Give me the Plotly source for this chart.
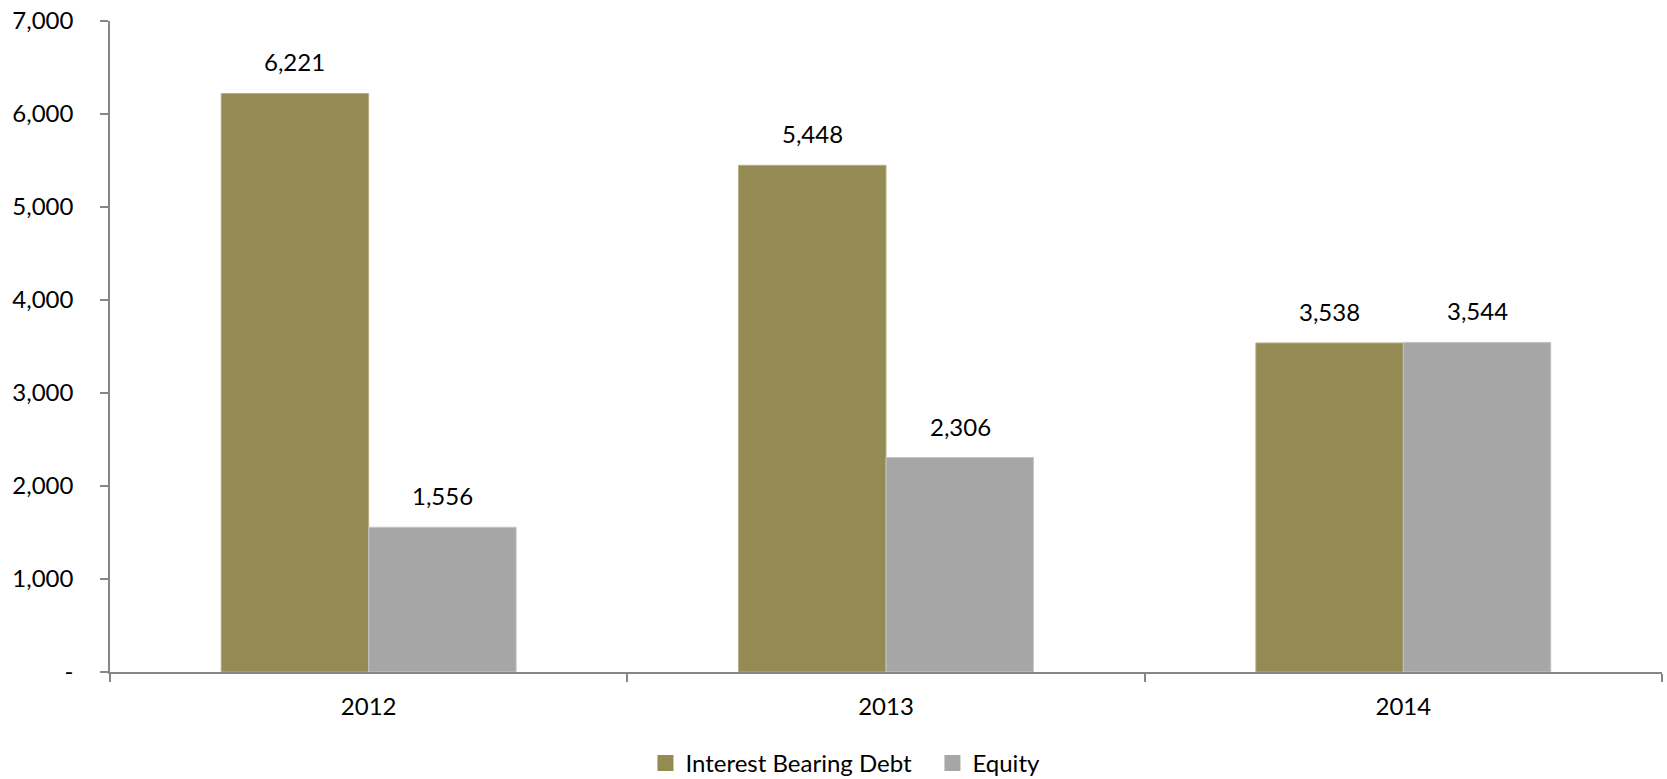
import plotly.graph_objects as go

years = ["2012", "2013", "2014"]
debt = [6221, 5448, 3538]
equity = [1556, 2306, 3544]
ytick_vals = [0, 1000, 2000, 3000, 4000, 5000, 6000, 7000]
ytick_text = ["-", "1,000", "2,000", "3,000", "4,000", "5,000", "6,000", "7,000"]

DEBT_C = "#948A54"
EQ_C = "#A6A6A6"
FONT = "Lato"
FS = 24

fig = go.Figure()
fig.add_trace(go.Bar(name="Interest Bearing Debt", x=years, y=debt, showlegend=False,
                     marker=dict(color=DEBT_C, line=dict(color="#B5AE86", width=1))))
fig.add_trace(go.Bar(name="Equity", x=years, y=equity, showlegend=False,
                     marker=dict(color=EQ_C, line=dict(color="#C4C4C4", width=1))))
# legend entries with larger square swatches
for name, col in (("Interest Bearing Debt", DEBT_C), ("Equity", EQ_C)):
    fig.add_trace(go.Scatter(name=name, x=[None], y=[None], mode="markers",
                             marker=dict(symbol="square", size=16, color=col)))

# category axes place annotations by category index
for vals, shift in ((debt, -74), (equity, 74)):
    for i, v in enumerate(vals):
        fig.add_annotation(x=i, y=v, text=f"{v:,}", showarrow=False,
                           xshift=shift, yshift=15, yanchor="bottom",
                           font=dict(family=FONT, size=FS, color="#000"))

fig.update_layout(
    width=1667, height=779,
    margin=dict(l=110, r=5, t=18, b=107),
    paper_bgcolor="white", plot_bgcolor="white",
    barmode="group", bargap=0.43, bargroupgap=0,
    font=dict(family=FONT, size=FS, color="#000"),
    showlegend=True,
    legend=dict(orientation="h", x=0.345, xanchor="left",
                yref="container", y=0.02, yanchor="middle",
                font=dict(family=FONT, size=FS), itemwidth=30, tracegroupgap=0,
                entrywidth=242),
    xaxis=dict(type="category", range=[-0.5, 2.5], showline=True, linecolor="#868686", linewidth=1.5,
               ticks="outside", ticklen=8, tickcolor="#868686", tickwidth=1.5,
               tickson="boundaries", showgrid=False, zeroline=False,
               tickfont=dict(family=FONT, size=FS), ticklabelstandoff=12),
    yaxis=dict(range=[0, 7000], tickvals=ytick_vals, ticktext=ytick_text,
               showline=True, linecolor="#868686", linewidth=1.5,
               ticks="outside", ticklen=8, tickcolor="#868686", tickwidth=1.5,
               showgrid=False, zeroline=False,
               tickfont=dict(family=FONT, size=FS), ticklabelstandoff=22),
)

fig.write_html("out.html")
